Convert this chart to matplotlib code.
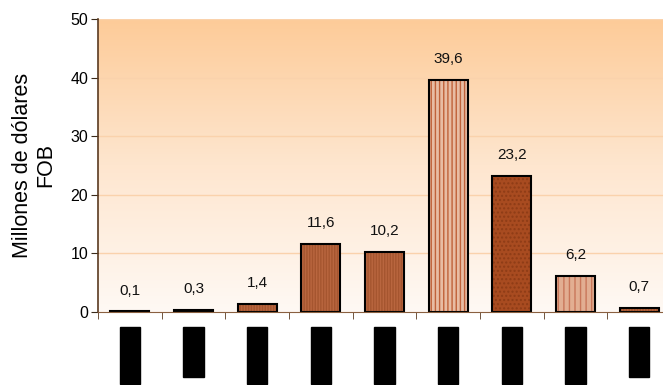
import numpy as np
import matplotlib
matplotlib.use("Agg")
import matplotlib.pyplot as plt
from matplotlib.colors import LinearSegmentedColormap

plt.rcParams['font.family'] = ['Liberation Sans', 'DejaVu Sans']

# ---- data ----
categories = ["Rubro 01", "Rubro 2", "Rubro 03", "Rubro 04", "Rubro 05",
              "Rubro 06", "Rubro 07", "Rubro 08", "Rubro 9"]
values = [0.1, 0.3, 1.4, 11.6, 10.2, 39.6, 23.2, 6.2, 0.7]
value_labels = ["0,1", "0,3", "1,4", "11,6", "10,2", "39,6", "23,2", "6,2", "0,7"]
yticks = [0, 10, 20, 30, 40, 50]

face_colors = ["#B9663F", "#B9663F", "#B9663F", "#B9663F", "#B9663F",
               "#E8BCA4", "#A84B20", "#E2AE92", "#B9663F"]
hatch_colors = ["#A5552F", "#A5552F", "#A5552F", "#A5552F", "#A5552F",
                "#C0623A", "#8E3C16", "#C9775A", "#A5552F"]
hatches = ["||||||", "||||||", "||||||", "||||||", "||||||",
           "||||", "....", "|||", "||||||"]

fig = plt.figure(figsize=(6.63, 3.85), dpi=100)
ax = fig.add_axes([98/663, 73/385, 573/663, 293/385])

# background gradient
cmap = LinearSegmentedColormap.from_list("bg", ["#FFF9F4", "#FEE6CF", "#FDCB98"])
grad = np.linspace(0, 1, 256).reshape(-1, 1)
ax.imshow(grad, aspect="auto", cmap=cmap, origin="lower",
          extent=[0, 1, 0, 1], transform=ax.transAxes, zorder=0)

x = np.arange(len(values))
ax.bar(x, values, width=0.61, color=face_colors, edgecolor=hatch_colors,
       hatch=hatches, linewidth=0, zorder=3)
ax.bar(x, values, width=0.61, color="none", edgecolor="black",
       linewidth=1.5, zorder=4)

for xi, v, lab in zip(x, values, value_labels):
    ax.annotate(lab, (xi, v), xytext=(0, 10), textcoords="offset points",
                ha="center", va="bottom", fontsize=11, color="#111111", zorder=5)

ax.set_xlim(-0.5, len(values) - 0.5)
ax.set_ylim(0, 50)
ax.set_yticks(yticks)
ax.set_yticklabels([str(t) for t in yticks], fontsize=11.5)
for t in yticks[1:]:
    ax.axhline(t, color="#FAD2AC", linewidth=1, zorder=1)

ax.set_xticks(x)
ax.set_xticklabels(categories, rotation=90, fontsize=8.5, color="black",
                   va="top", ha="center")
for lbl in ax.get_xticklabels():
    lbl.set_bbox(dict(facecolor="black", edgecolor="black", pad=3))
ax.tick_params(axis="x", which="major", length=0, pad=14)
ax.set_xticks(np.arange(-0.5, len(values) - 0.5 + 0.01, 1.0), minor=True)
ax.tick_params(axis="x", which="minor", length=5, direction="out", color="#5A3A20")
ax.tick_params(axis="y", length=5, direction="out", color="#3A2A1A", pad=2)

for s in ["top", "right"]:
    ax.spines[s].set_visible(False)
ax.spines["left"].set_color("#5A3A20")
ax.spines["bottom"].set_color("#8A6040")
ax.spines["left"].set_linewidth(1.2)
ax.spines["bottom"].set_zorder(5)

ax.set_ylabel("Millones de dólares\nFOB", fontsize=15.5, linespacing=1.15, labelpad=10)

fig.savefig("out.png", dpi=100)
